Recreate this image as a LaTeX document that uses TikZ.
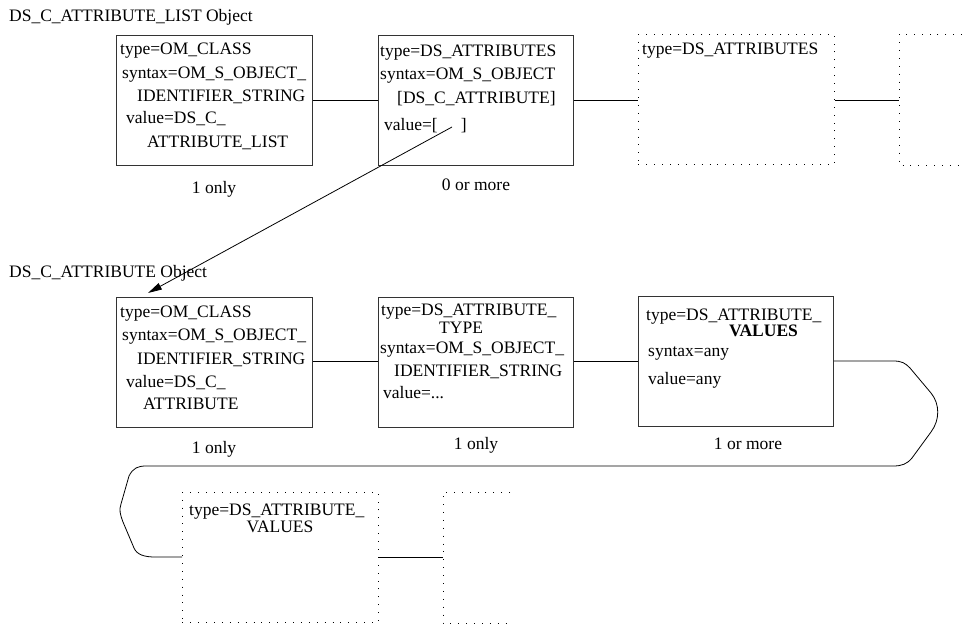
\documentclass[tikz,border=0pt]{standalone}
\usepackage{fontspec}
\setmainfont{Liberation Serif}
\usetikzlibrary{arrows.meta}
\begin{document}
\begin{tikzpicture}[x=1pt,y=-1pt,
  every node/.style={font=\fontsize{17.5}{21}\selectfont},
  objbox/.style={draw=black!80,line width=0.9pt,inner sep=0pt,anchor=north west,
    minimum width=196pt,minimum height=130pt},
  dotbox/.style={objbox,draw=black,line width=0.9pt,dash pattern=on 0.9pt off 7pt},
  dotline/.style={draw=black,line width=0.9pt,dash pattern=on 0.9pt off 7pt},
  txt/.style={anchor=base west,inner sep=0pt},
  link/.style={draw=black,line width=0.8pt},
]
\useasboundingbox (0,0) rectangle (962,626);

% ---- DS_C_ATTRIBUTE_LIST object ----
\node[txt] (title1) at (9,22) {DS\_C\_ATTRIBUTE\_LIST Object};

\node[objbox] (b1) at (116,35) {};
\node[objbox,minimum width=195pt] (b2) at (378,35) {};
\node[dotbox] (b3) at (638,34) {};
\coordinate (b4) at (899,100);
\path[dotline] (962,34) -- (899,34) -- (899,165) -- (962,165);

\node[txt] (b1a) at (120,55) {type=OM\_CLASS};
\node[txt] (b1b) at (122,78) {syntax=OM\_S\_OBJECT\_};
\node[txt] (b1c) at (137,102) {IDENTIFIER\_STRING};
\node[txt] (b1d) at (126,124) {value=DS\_C\_};
\node[txt] (b1e) at (147,147) {ATTRIBUTE\_LIST};
\node[anchor=base,inner sep=0pt] (c1) at (214,193) {1 only};

\node[txt] (b2a) at (380,57) {type=DS\_ATTRIBUTES};
\node[txt] (b2b) at (380,80) {syntax=OM\_S\_OBJECT};
\node[txt] (b2c) at (397,103) {[DS\_C\_ATTRIBUTE]};
\node[txt] (b2d) at (384,130) {value=[\hspace{23pt}]};
\node[anchor=base,inner sep=0pt] (c2) at (476,190) {0 or more};

\node[txt] (b3a) at (642,55) {type=DS\_ATTRIBUTES};

\draw[link] (b1.east |- 0,100) -- (b2.west |- 0,100);
\draw[link] (b2.east |- 0,100) -- (b3.west |- 0,100);
\draw[link] (b3.east |- 0,100) -- (b4);

% ---- DS_C_ATTRIBUTE object ----
\node[txt] (title2) at (9,277) {DS\_C\_ATTRIBUTE Object};

\node[objbox] (b5) at (116,297) {};
\node[objbox,minimum width=195pt] (b6) at (378,297) {};
\node[objbox,minimum width=195pt] (b7) at (638,296) {};

\node[txt] (b5a) at (120,317) {type=OM\_CLASS};
\node[txt] (b5b) at (122,340) {syntax=OM\_S\_OBJECT\_};
\node[txt] (b5c) at (137,364) {IDENTIFIER\_STRING};
\node[txt] (b5d) at (126,387) {value=DS\_C\_};
\node[txt] (b5e) at (143,409) {ATTRIBUTE};
\node[anchor=base,inner sep=0pt] (c5) at (214,453) {1 only};

\node[txt] (b6a) at (381,315) {type=DS\_ATTRIBUTE\_};
\node[txt] (b6b) at (439,333) {TYPE};
\node[txt] (b6c) at (380,353) {syntax=OM\_S\_OBJECT\_};
\node[txt] (b6d) at (394,376) {IDENTIFIER\_STRING};
\node[txt] (b6e) at (383,398) {value=...};
\node[anchor=base,inner sep=0pt] (c6) at (476,449) {1 only};

\node[txt] (b7a) at (646,320) {type=DS\_ATTRIBUTE\_};
\node[txt] (b7b) at (729,336) {\bfseries VALUES};
\node[txt] (b7c) at (648,356) {syntax=any};
\node[txt] (b7d) at (648,384) {value=any};
\node[anchor=base,inner sep=0pt] (c7) at (748,449) {1 or more};

\draw[link] (b5.east |- 0,361) -- (b6.west |- 0,361);
\draw[link] (b6.east |- 0,361) -- (b7.west |- 0,361);

% ---- continuation row ----
\node[dotbox] (b8) at (182,492) {};
\coordinate (b9) at (443,557);
\path[dotline] (510,492) -- (443,492) -- (443,623) -- (510,623);

\node[txt] (b8a) at (189,515) {type=DS\_ATTRIBUTE\_};
\node[anchor=base,inner sep=0pt] (b8b) at (280,532) {VALUES};

\draw[link] (b8.east |- 0,557) -- (b9);

% wrap-around connector from the VALUES box to its continuation
\draw[link] (b7.east |- 0,361) -- (893,361)
  .. controls (902,361) and (905,363) .. (910,368)
  -- (931,393)
  .. controls (940,404) and (940,420) .. (931,432)
  -- (912,458)
  .. controls (907,464) and (902,466) .. (893,466)
  -- (146,466)
  .. controls (138,466) and (133,468) .. (129,476)
  -- (121,504)
  .. controls (119,510) and (120,514) .. (123,522)
  -- (134,548)
  .. controls (137,555) and (145,557) .. (155,557)
  -- (b8.west |- 0,557);

% pointer from the value slot to the referenced object
\coordinate (ptr) at (452,127);
\coordinate (tip) at ([shift={(32,-4)}]b5.north west);
\draw[link,-{Triangle[length=14pt,width=7pt]}] (ptr) -- (tip);
\end{tikzpicture}
\end{document}
